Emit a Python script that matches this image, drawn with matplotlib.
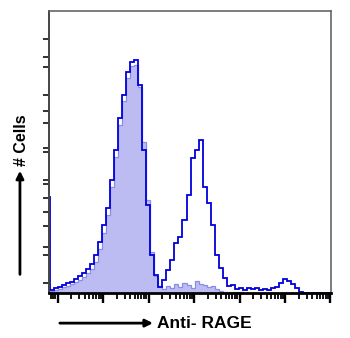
import numpy as np
import matplotlib
matplotlib.use("Agg")
import matplotlib.pyplot as plt
from matplotlib.ticker import LogLocator, NullFormatter

plt.rcParams["font.family"] = ["Liberation Sans", "DejaVu Sans"]

# ================= DATA =================
# counts per log-spaced channel (0..100 scale), first channel sits just left of the axis
stained = [34,
           1.1, 1.8, 2.1, 2.8, 3.5, 3.9, 5.0, 6.0, 7.1, 8.5,
           10.3, 13.5, 18.1, 24.1, 30.1, 40.1, 50.7, 62.1, 70.2, 78.4,
           81.9, 82.6, 73.8, 50.7, 31.2, 13.5, 6.4, 2.1, 4.6, 8.2,
           11.7, 17.7, 19.9, 25.9, 34.8, 47.9, 50.7, 54.3, 37.6, 31.9,
           24.1, 13.5, 8.9, 5.3, 2.5, 2.8, 1.4, 1.8, 1.1, 1.8,
           1.4, 1.8, 1.1, 1.4, 1.1, 1.8, 2.1, 3.5, 5.0, 4.3,
           3.2, 1.8, 0.4, 0, 0, 0, 0, 0, 0, 0]
isotype = [2,
           0.7, 1.1, 1.4, 2.1, 2.5, 3.2, 3.9, 4.6, 5.7, 7.1,
           8.5, 11.0, 15.6, 21.3, 27.7, 37.6, 48.2, 59.6, 68.0, 76.2,
           80.5, 80.9, 73.0, 53.5, 33.0, 14.5, 6.0, 2.5, 1.4, 2.5,
           1.8, 3.2, 2.1, 3.5, 2.8, 1.8, 4.3, 3.2, 2.8, 2.1,
           2.5, 1.4, 0.7, 0.4, 0.4, 0.3, 0.3, 0.2, 0, 0,
           0, 0, 0, 0, 0, 0, 0, 0, 0, 0,
           0, 0, 0, 0, 0, 0, 0, 0, 0, 0]
y_ticks = [90.1, 83.7, 80.1, 70.2, 64.5, 60.3, 51.4, 50, 40.1, 38.7,
           33.7, 28.7, 23.8, 16.3, 13.5, 3.5]

# log10 range of the channels
log_lo, log_hi = 0.747, 7.011
x_min = 10 ** 0.812

edges = np.logspace(log_lo, log_hi, len(stained) + 1)

# ================= PLOT =================
fig = plt.figure(figsize=(3.5, 3.38), dpi=100)
ax = fig.add_axes([0.14, 0.1331, 0.8057, 0.8344])

ax.stairs(isotype, edges, fill=True, color="#bcbcf2", linewidth=0)
ax.stairs(isotype, edges, color="#8c8ce8", linewidth=0.9)
ax.stairs(stained, edges, color="#0000dc", linewidth=1.3)

ax.set_xscale("log")
ax.set_xlim(x_min, 10 ** log_hi)
ax.set_ylim(0, 100)

ax.xaxis.set_major_locator(LogLocator(base=10, numticks=20))
ax.xaxis.set_minor_locator(LogLocator(base=10, subs=np.arange(2, 10), numticks=20))
ax.xaxis.set_major_formatter(NullFormatter())
ax.xaxis.set_minor_formatter(NullFormatter())
ax.tick_params(axis="x", which="major", direction="out", length=7, width=1.7, color="black")
ax.tick_params(axis="x", which="minor", direction="out", length=4.5, width=1.3, color="black")

ax.set_yticks(y_ticks)
ax.set_yticklabels([])
ax.tick_params(axis="y", direction="out", length=4, width=1.3, color="#222222")

for side in ["top", "right"]:
    ax.spines[side].set_color("#666666")
    ax.spines[side].set_linewidth(1.2)
ax.spines["left"].set_color("#444444")
ax.spines["left"].set_linewidth(1.4)
ax.spines["bottom"].set_color("black")
ax.spines["bottom"].set_linewidth(2)

# ===== axis arrows + labels =====
ax.annotate("", xy=(0.057, 0.503), xytext=(0.057, 0.180),
            xycoords="figure fraction", textcoords="figure fraction",
            arrowprops=dict(arrowstyle="-|>", color="black", lw=2, mutation_scale=11))
fig.text(0.06, 0.585, "# Cells", rotation=90, ha="center", va="center",
         fontsize=11.5, fontweight="bold")

ax.annotate("", xy=(0.445, 0.044), xytext=(0.163, 0.044),
            xycoords="figure fraction", textcoords="figure fraction",
            arrowprops=dict(arrowstyle="-|>", color="black", lw=2, mutation_scale=11))
fig.text(0.449, 0.044, "Anti- RAGE", ha="left", va="center",
         fontsize=12.5, fontweight="bold")

fig.savefig("out.png", dpi=100)
